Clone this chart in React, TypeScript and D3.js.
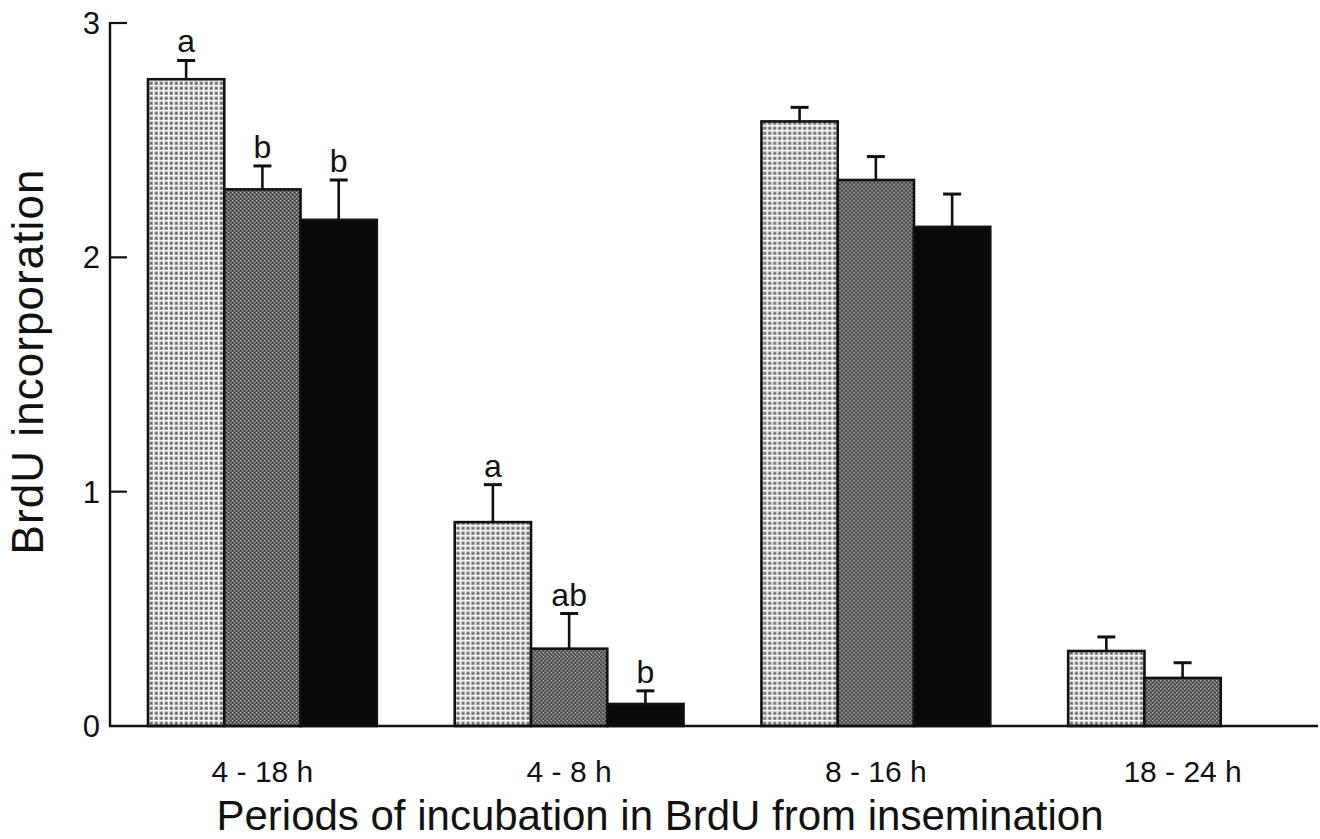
import React from "react";
import * as d3 from "d3";

// Incubation periods (groups) and the three treatment series
const periods = ["4 - 18 h", "4 - 8 h", "8 - 16 h", "18 - 24 h"];
const seriesKeys = ["s1", "s2", "s3"];

// Mean BrdU incorporation per period, per series (null = not measured)
const meanS1 = [2.76, 0.87, 2.58, 0.32];
const meanS2 = [2.29, 0.33, 2.33, 0.205];
const meanS3 = [2.16, 0.094, 2.13, null];

// Upper end of the error bar (mean + SEM)
const errS1 = [2.84, 1.03, 2.64, 0.38];
const errS2 = [2.39, 0.48, 2.43, 0.27];
const errS3 = [2.33, 0.15, 2.27, null];

// Significance letters (empty = none shown)
const lettersS1 = ["a", "a", "", ""];
const lettersS2 = ["b", "ab", "", ""];
const lettersS3 = ["b", "b", "", ""];

const yTicks = [0, 1, 2, 3];

const W = 1320;
const H = 839;
const FONT = "'Liberation Sans', Arial, Helvetica, sans-serif";

export default function App() {
  const y = d3.scaleLinear().domain([0, 3]).range([726, 23]);
  const x0 = d3.scaleBand<string>().domain(periods).range([148, 1297]).paddingInner(0.254).paddingOuter(0);
  const x1 = d3.scaleBand<string>().domain(seriesKeys).range([0, x0.bandwidth()]).padding(0);

  const means = [meanS1, meanS2, meanS3];
  const errs = [errS1, errS2, errS3];
  const letters = [lettersS1, lettersS2, lettersS3];
  const fills = ["url(#patLight)", "url(#patMid)", "#0a0a0a"];

  const axisX = 110;
  const baseY = y(0);

  return (
    <svg
      width={W}
      height={H}
      viewBox={`0 0 ${W} ${H}`}
      style={{ position: "absolute", left: 0, top: 0, background: "#fff" }}
    >
      <defs>
        <pattern id="patLight" width={5} height={5} patternUnits="userSpaceOnUse">
          <rect width={5} height={5} fill="#f8f8f8" />
          <rect x={1.5} y={1.5} width={3.5} height={3.5} fill="#969696" />
          <rect x={2.5} y={2.5} width={1.5} height={1.5} fill="#5a5a5a" />
        </pattern>
        <pattern id="patMid" width={4} height={4} patternUnits="userSpaceOnUse">
          <rect width={4} height={4} fill="#626262" />
          <rect x={0} y={0} width={1.2} height={1.2} fill="#c4c4c4" />
          <rect x={2} y={2} width={1.2} height={1.2} fill="#aaaaaa" />
          <rect x={2} y={0} width={1.2} height={1.2} fill="#2e2e2e" />
          <rect x={0} y={2} width={1.2} height={1.2} fill="#2e2e2e" />
        </pattern>
      </defs>

      {/* bars */}
      {periods.map((p, gi) => (
        <g key={p} transform={`translate(${x0(p)},0)`}>
          {seriesKeys.map((k, si) => {
            const v = means[si][gi];
            if (v == null) return null;
            const bx = x1(k)!;
            const bw = x1.bandwidth();
            return (
              <rect
                key={k}
                x={bx}
                y={y(v)}
                width={bw}
                height={baseY - y(v)}
                fill={fills[si]}
                stroke="#111"
                strokeWidth={2.6}
              />
            );
          })}
        </g>
      ))}

      {/* error bars and letters */}
      {periods.map((p, gi) => (
        <g key={p + "-err"} transform={`translate(${x0(p)},0)`}>
          {seriesKeys.map((k, si) => {
            const v = means[si][gi];
            const e = errs[si][gi];
            if (v == null || e == null) return null;
            const cx = x1(k)! + x1.bandwidth() / 2;
            const lt = letters[si][gi];
            return (
              <g key={k}>
                <line x1={cx} x2={cx} y1={y(v)} y2={y(e)} stroke="#111" strokeWidth={2.6} />
                <line x1={cx - 9} x2={cx + 9} y1={y(e)} y2={y(e)} stroke="#111" strokeWidth={3} />
                {lt && (
                  <text
                    x={cx}
                    y={y(e) - 8}
                    textAnchor="middle"
                    fontFamily={FONT}
                    fontSize={32}
                    fill="#111"
                  >
                    {lt}
                  </text>
                )}
              </g>
            );
          })}
        </g>
      ))}

      {/* y axis */}
      <line x1={axisX} x2={axisX} y1={y(3) - 1} y2={baseY} stroke="#111" strokeWidth={2.4} />
      {yTicks.map((t) => (
        <g key={t}>
          {t > 0 && (
            <line x1={axisX} x2={axisX + 17} y1={y(t)} y2={y(t)} stroke="#111" strokeWidth={2.2} />
          )}
          <text
            x={100}
            y={y(t)}
            dy="0.36em"
            textAnchor="end"
            fontFamily={FONT}
            fontSize={31}
            fill="#111"
          >
            {t}
          </text>
        </g>
      ))}

      {/* x axis */}
      <line x1={axisX - 1} x2={1318} y1={baseY} y2={baseY} stroke="#111" strokeWidth={2.4} />
      {periods.map((p) => (
        <text
          key={p + "-lab"}
          x={x0(p)! + x0.bandwidth() / 2}
          y={782}
          textAnchor="middle"
          fontFamily={FONT}
          fontSize={30}
          fill="#111"
        >
          {p}
        </text>
      ))}

      {/* axis titles */}
      <text
        transform={`translate(43,362) rotate(-90)`}
        textAnchor="middle"
        fontFamily={FONT}
        fontSize={44}
        textLength={385}
        lengthAdjust="spacing"
        fill="#111"
      >
        BrdU incorporation
      </text>
      <text
        x={660}
        y={830}
        textAnchor="middle"
        fontFamily={FONT}
        fontSize={42}
        fill="#111"
      >
        Periods of incubation in BrdU from insemination
      </text>
    </svg>
  );
}
